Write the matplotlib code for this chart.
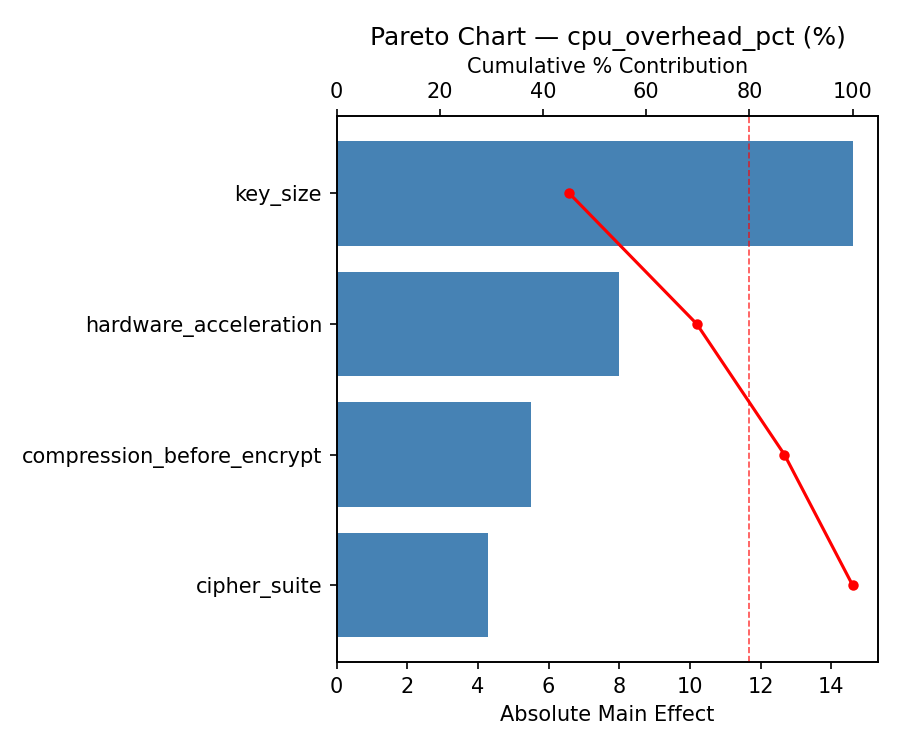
import numpy as np
import matplotlib
matplotlib.use("Agg")
import matplotlib.pyplot as plt

factors = ['key_size', 'hardware_acceleration', 'compression_before_encrypt', 'cipher_suite']
effects = [14.6, 8.0, 5.5, 4.28]

cum_pct = np.cumsum(effects) / np.sum(effects) * 100
ypos = np.arange(len(factors))

fig, ax = plt.subplots(figsize=(6, 5), dpi=150)
ax.barh(ypos, effects, height=0.8, color='steelblue')
ax.set_yticks(ypos)
ax.set_yticklabels(factors)
ax.invert_yaxis()
ax.set_xlim(0, max(effects) * 1.05)
ax.set_xlabel('Absolute Main Effect')

# cumulative line on a second x axis (top)
ax2 = ax.twiny()
ax2.plot(cum_pct, ypos, color='red', marker='o', markersize=4)
ax2.axvline(80, color='red', linestyle='--', linewidth=0.8, alpha=0.7)
ax2.set_xlim(0, 105)
ax2.set_xlabel('Cumulative % Contribution')
ax2.set_title('Pareto Chart — cpu_overhead_pct (%)')

plt.subplots_adjust(left=0.374, right=0.976, top=0.845, bottom=0.117)
plt.savefig('out.png', dpi=150)
